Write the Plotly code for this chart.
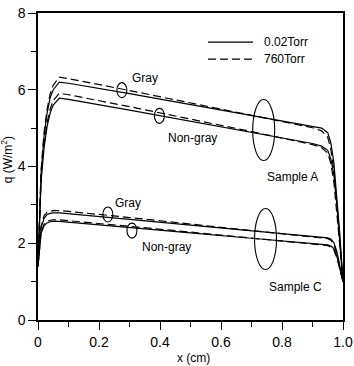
import plotly.graph_objects as go

# ---------------- data ----------------
x_cm = [0, 0.005, 0.01, 0.02, 0.03, 0.04, 0.05, 0.07, 0.1, 0.3, 0.5, 0.7, 0.9,
        0.93, 0.95, 0.96, 0.97, 0.98, 0.99, 1.0]

A_gray_002 = [1.4, 2.9, 3.8, 4.8, 5.4, 5.8, 6.0, 6.2, 6.17, 5.9, 5.62, 5.34, 5.06,
              5.0, 4.88, 4.62, 4.1, 3.2, 2.2, 1.0]
A_gray_760 = [1.4, 3.0, 3.9, 4.9, 5.5, 5.9, 6.12, 6.33, 6.29, 5.98, 5.66, 5.34, 5.01,
              4.93, 4.76, 4.45, 3.9, 3.0, 2.0, 1.0]
A_ngray_002 = [1.4, 2.8, 3.6, 4.5, 5.05, 5.4, 5.6, 5.78, 5.75, 5.47, 5.18, 4.89, 4.6,
               4.53, 4.42, 4.2, 3.8, 3.0, 2.1, 1.0]
A_ngray_760 = [1.4, 2.85, 3.7, 4.6, 5.15, 5.5, 5.72, 5.91, 5.87, 5.56, 5.24, 4.91, 4.57,
               4.49, 4.35, 4.08, 3.6, 2.8, 1.9, 1.0]

C_gray_002 = [1.4, 2.05, 2.4, 2.65, 2.75, 2.78, 2.79, 2.79, 2.77, 2.62, 2.47, 2.33, 2.18,
              2.16, 2.14, 2.11, 2.02, 1.78, 1.42, 1.0]
C_gray_760 = [1.4, 2.1, 2.45, 2.72, 2.81, 2.84, 2.85, 2.85, 2.83, 2.67, 2.5, 2.34, 2.17,
              2.15, 2.12, 2.08, 1.97, 1.72, 1.38, 1.0]
C_ngray_002 = [1.4, 1.95, 2.25, 2.46, 2.53, 2.56, 2.57, 2.57, 2.55, 2.41, 2.27, 2.13, 2.0,
               1.98, 1.96, 1.93, 1.86, 1.66, 1.35, 1.0]
C_ngray_760 = [1.4, 1.98, 2.28, 2.5, 2.57, 2.6, 2.61, 2.61, 2.59, 2.44, 2.29, 2.14, 1.99,
               1.97, 1.94, 1.9, 1.82, 1.62, 1.32, 1.0]

x_ticks = [0, 0.2, 0.4, 0.6, 0.8, 1.0]
x_tick_labels = ["0", "0.2", "0.4", "0.6", "0.8", "1.0"]
y_ticks = [0, 2, 4, 6, 8]
y_tick_labels = ["0", "2", "4", "6", "8"]

legend_labels = ["0.02Torr", "760Torr"]

# text labels (x, q, text)
label_x = [0.351, 0.508, 0.833, 0.295, 0.42, 0.843]
label_q = [6.30, 4.74, 3.72, 3.05, 1.90, 0.86]
label_txt = ["Gray", "Non-gray", "Sample A", "Gray", "Non-gray", "Sample C"]

# small marker ellipses (center x, center q)
ring_x = [0.275, 0.398, 0.229, 0.308]
ring_q = [5.99, 5.32, 2.75, 2.33]
# large grouping ellipses
big_x = [0.74, 0.746]
big_q = [4.95, 2.11]

# ---------------- figure ----------------
FONT = "Liberation Sans, Arial, sans-serif"
fig = go.Figure()

solid = dict(color="black", width=1.2)
dashed = dict(color="black", width=1.2, dash="8px,4px")

for ys, st in [(A_gray_002, solid), (A_gray_760, dashed), (A_ngray_002, solid), (A_ngray_760, dashed),
               (C_gray_002, solid), (C_gray_760, dashed), (C_ngray_002, solid), (C_ngray_760, dashed)]:
    fig.add_trace(go.Scatter(x=x_cm, y=ys, mode="lines", line=st, showlegend=False,
                             hoverinfo="skip"))

shapes = []
annotations = []

# plot geometry helpers (pixels -> data)
L, R, T, B = 38, 11, 13, 46
W, H = 354, 366
pw, ph = W - L - R, H - T - B
px_x = 1.0 / pw
px_y = 8.0 / ph

for cx, cq in zip(ring_x, ring_q):
    shapes.append(dict(type="circle", xref="x", yref="y",
                       x0=cx - 5 * px_x, x1=cx + 5 * px_x,
                       y0=cq - 7.5 * px_y, y1=cq + 7.5 * px_y,
                       line=dict(color="black", width=1.1)))
for cx, cq in zip(big_x, big_q):
    shapes.append(dict(type="circle", xref="x", yref="y",
                       x0=cx - 11 * px_x, x1=cx + 11 * px_x,
                       y0=cq - 30.5 * px_y, y1=cq + 30.5 * px_y,
                       line=dict(color="black", width=1.1)))

# legend (manual)
leg_y = [7.24, 6.8]
for yy, lab, st in zip(leg_y, legend_labels, [solid, dashed]):
    shapes.append(dict(type="line", xref="x", yref="y",
                       x0=(208 - L) * px_x, x1=(253 - L) * px_x, y0=yy, y1=yy,
                       line=st))
    annotations.append(dict(x=(262 - L) * px_x, y=yy, xref="x", yref="y", text=lab,
                            showarrow=False, xanchor="left", yanchor="middle",
                            font=dict(family=FONT, size=12, color="black")))

for lx, lq, lt in zip(label_x, label_q, label_txt):
    annotations.append(dict(x=lx, y=lq, xref="x", yref="y", text=lt, showarrow=False,
                            xanchor="center", yanchor="middle",
                            font=dict(family=FONT, size=12, color="black")))

annotations.append(dict(x=0.51, y=-0.124, xref="paper", yref="paper", text="x (cm)",
                        showarrow=False, xanchor="center", yanchor="middle",
                        font=dict(family=FONT, size=12, color="black")))
annotations.append(dict(x=(7 - L) / pw, y=0.52, xref="paper", yref="paper",
                        text="q (W/m<sup>2</sup>)", textangle=-90,
                        showarrow=False, xanchor="center", yanchor="middle",
                        font=dict(family=FONT, size=12, color="black")))

axis_common = dict(showgrid=False, zeroline=False, showline=True, linecolor="black",
                   linewidth=1.5, mirror=True, ticks="outside", ticklen=8, tickwidth=1.3,
                   tickcolor="black",
                   tickfont=dict(family=FONT, size=14, color="black"))

fig.update_layout(
    width=W, height=H,
    margin=dict(l=L, r=R, t=T, b=B, autoexpand=False),
    plot_bgcolor="white", paper_bgcolor="white",
    shapes=shapes, annotations=annotations, showlegend=False,
    xaxis=dict(range=[0, 1.0], tickvals=x_ticks, ticktext=x_tick_labels,
               minor=dict(dtick=0.1, ticks="outside", ticklen=5, tickcolor="black", tickwidth=1.2),
               **axis_common),
    yaxis=dict(range=[0, 8], tickvals=y_ticks, ticktext=y_tick_labels,
               ticksuffix="\u00a0\u00a0",
               minor=dict(dtick=1, ticks="outside", ticklen=5, tickcolor="black", tickwidth=1.2),
               **axis_common),
)

fig.write_html("out.html")
